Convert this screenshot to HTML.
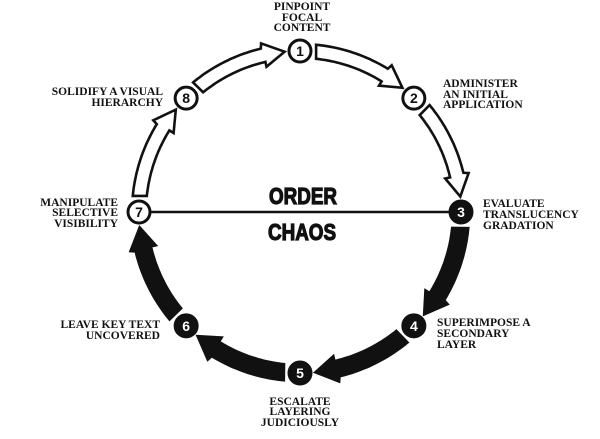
<!DOCTYPE html>
<html><head><meta charset="utf-8"><style>
body{margin:0;background:#fff;width:600px;height:439px;overflow:hidden}
svg{display:block}
.l{font-family:"Liberation Serif",serif;font-weight:bold;font-size:11.5px;fill:#111}
.n{font-family:"Liberation Sans",sans-serif;font-weight:bold;font-size:14px;text-anchor:middle}
.big{font-family:"Liberation Sans Narrow","Liberation Sans",sans-serif;font-weight:bold;font-size:23px;text-anchor:middle;fill:#111;stroke:#111;stroke-width:1.2}
</style></head><body>
<svg id="s" width="600" height="439" viewBox="0 0 600 439">
<g id="arrows"></g>
<line x1="150" y1="212" x2="450" y2="212" stroke="#111" stroke-width="2.5"/>
<text class="big" x="303" y="204" textLength="68" lengthAdjust="spacingAndGlyphs">ORDER</text>
<text class="big" x="302" y="240" textLength="68" lengthAdjust="spacingAndGlyphs">CHAOS</text>
<g id="nodes"></g>
<g class="l">
<text text-anchor="middle"><tspan x="302" y="10">PINPOINT</tspan><tspan x="302" y="21">FOCAL</tspan><tspan x="302" y="31">CONTENT</tspan></text>
<text><tspan x="443" y="87">ADMINISTER</tspan><tspan x="443" y="98">AN INITIAL</tspan><tspan x="443" y="108">APPLICATION</tspan></text>
<text><tspan x="483" y="207">EVALUATE</tspan><tspan x="483" y="218">TRANSLUCENCY</tspan><tspan x="483" y="229">GRADATION</tspan></text>
<text><tspan x="437" y="326">SUPERIMPOSE A</tspan><tspan x="437" y="337">SECONDARY</tspan><tspan x="437" y="348">LAYER</tspan></text>
<text text-anchor="middle"><tspan x="300" y="405">ESCALATE</tspan><tspan x="300" y="415">LAYERING</tspan><tspan x="300" y="426">JUDICIOUSLY</tspan></text>
<text text-anchor="end"><tspan x="160" y="328">LEAVE KEY TEXT</tspan><tspan x="160" y="339">UNCOVERED</tspan></text>
<text text-anchor="end"><tspan x="118" y="206">MANIPULATE</tspan><tspan x="118" y="216">SELECTIVE</tspan><tspan x="118" y="227">VISIBILITY</tspan></text>
<text text-anchor="end"><tspan x="163" y="95">SOLIDIFY A VISUAL</tspan><tspan x="163" y="106">HIERARCHY</tspan></text>
</g>
</svg>
<script>
var cx=300,cy=212,R=161,NS="http://www.w3.org/2000/svg";
function P(a,r){var t=a*Math.PI/180;return (cx+r*Math.cos(t)).toFixed(1)+","+(cy+r*Math.sin(t)).toFixed(1);}
var ag=document.getElementById("arrows"),ng=document.getElementById("nodes");
for(var i=0;i<8;i++){
 var th=-90+45*i; var filled=(i>=2&&i<=5);
 var w=filled?8:7, hw=filled?13:12;
 var s=th+5.5, hb=th+32, tip=th+39.5, pts=[];
 for(var a=s;a<=hb+0.01;a+=1)pts.push(P(a,R+w));
 pts.push(P(hb,R+hw));pts.push(P(tip,R));pts.push(P(hb,R-hw));
 for(var a=hb;a>=s-0.01;a-=1)pts.push(P(a,R-w));
 var pg=document.createElementNS(NS,"polygon");
 pg.setAttribute("points",pts.join(" "));
 pg.setAttribute("fill",filled?"#111":"#fff");pg.setAttribute("stroke","#111");pg.setAttribute("stroke-width","2.6");pg.setAttribute("stroke-linejoin","miter");
 ag.appendChild(pg);
 var t=th*Math.PI/180,x=cx+R*Math.cos(t),y=cy+R*Math.sin(t);
 var blk=(i>=2&&i<=5);
 var c=document.createElementNS(NS,"circle");
 c.setAttribute("cx",x);c.setAttribute("cy",y);c.setAttribute("r",11);
 c.setAttribute("fill",blk?"#111":"#fff");c.setAttribute("stroke","#111");c.setAttribute("stroke-width","3");
 ng.appendChild(c);
 var tx=document.createElementNS(NS,"text");
 tx.setAttribute("class","n");tx.setAttribute("x",x);tx.setAttribute("y",y+5);
 tx.setAttribute("fill",blk?"#fff":"#111");tx.textContent=String(i+1);
 ng.appendChild(tx);
}
</script>
</body></html>
